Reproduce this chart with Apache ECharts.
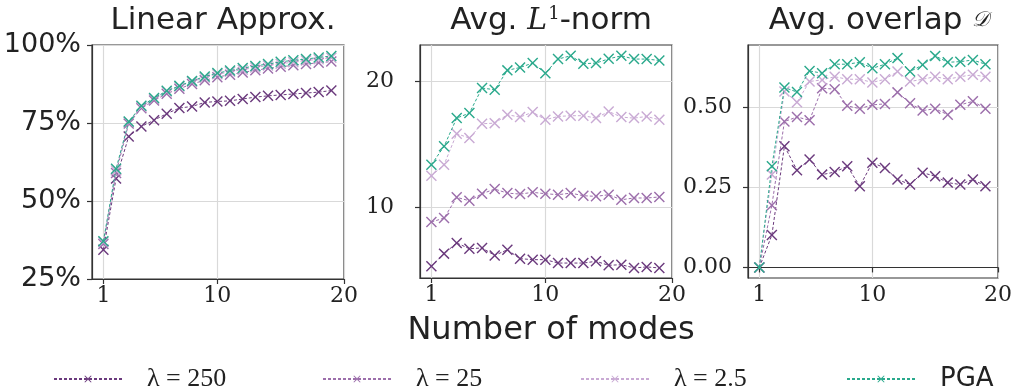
<!DOCTYPE html>
<html><head><meta charset="utf-8">
<script src="https://cdn.jsdelivr.net/npm/echarts@6/dist/echarts.min.js"></script>
<style>html,body{margin:0;padding:0;background:#fff}#c{width:1015px;height:387px}</style>
</head><body><div id="c"></div>
<script>
const modes = [1,2,3,4,5,6,7,8,9,10,11,12,13,14,15,16,17,18,19];
const seriesNames = ['λ = 250', 'λ = 25', 'λ = 2.5', 'PGA'];
const seriesColors = ['#6b3a7d', '#9c6eab', '#c9aad4', '#2aa98c'];

// Panel 1: Linear Approx. (fraction)
const linApprox = [
  [0.344,0.572,0.707,0.739,0.759,0.780,0.798,0.803,0.816,0.819,0.821,0.827,0.833,0.837,0.840,0.843,0.846,0.849,0.854],
  [0.362,0.590,0.748,0.797,0.822,0.844,0.860,0.875,0.887,0.897,0.905,0.912,0.919,0.925,0.930,0.935,0.939,0.943,0.947],
  [0.368,0.598,0.753,0.802,0.828,0.851,0.867,0.882,0.895,0.906,0.914,0.921,0.928,0.934,0.940,0.945,0.950,0.954,0.959],
  [0.371,0.603,0.755,0.805,0.830,0.853,0.869,0.885,0.899,0.910,0.918,0.926,0.933,0.939,0.946,0.951,0.955,0.960,0.965]
];
// Panel 2: Avg. L1-norm
const l1Norm = [
  [5.28,6.29,7.14,6.68,6.74,6.15,6.60,5.89,5.81,5.81,5.54,5.54,5.54,5.68,5.36,5.41,5.15,5.23,5.15],
  [8.81,9.12,10.77,10.50,11.06,11.43,11.11,11.03,11.17,11.06,10.98,11.11,10.90,10.85,10.98,10.58,10.72,10.72,10.80],
  [12.49,13.37,15.84,15.49,16.63,16.68,17.35,17.16,17.56,16.95,17.21,17.27,17.27,17.08,17.61,17.16,17.08,17.21,16.95],
  [13.37,14.83,17.08,17.48,19.47,19.34,20.88,21.11,21.46,20.66,21.78,22.04,21.41,21.46,21.80,22.04,21.78,21.78,21.67]
];
// Panel 3: Avg. overlap D
const overlap = [
  [0,0.101,0.379,0.304,0.337,0.290,0.298,0.316,0.254,0.327,0.311,0.275,0.259,0.296,0.285,0.265,0.259,0.275,0.254],
  [0,0.194,0.456,0.470,0.460,0.560,0.557,0.505,0.496,0.508,0.511,0.547,0.513,0.490,0.496,0.477,0.508,0.519,0.496],
  [0,0.290,0.550,0.516,0.581,0.586,0.596,0.588,0.588,0.578,0.588,0.612,0.581,0.588,0.596,0.588,0.596,0.602,0.596],
  [0,0.316,0.562,0.548,0.614,0.607,0.635,0.635,0.641,0.622,0.635,0.654,0.612,0.633,0.661,0.641,0.643,0.648,0.635]
];
const xTicks = [1, 10, 20];
const yTicks1 = [0.25, 0.5, 0.75, 1.0];
const yTicks2 = [10, 20];
const yTicks3 = [0, 0.25, 0.5];
const titles = ['Linear Approx.', 'Avg. {it|L}{sup|1}-norm', 'Avg. overlap {sc|𝒟}'];
const xLabel = 'Number of modes';

const crossPath = 'path://M0,1.1 L1.1,0 L6,4.9 L10.9,0 L12,1.1 L7.1,6 L12,10.9 L10.9,12 L6,7.1 L1.1,12 L0,10.9 L4.9,6 Z';

const grids = [
  {left: 92, width: 252, top: 45, height: 234},
  {left: 420, width: 252, top: 45, height: 233},
  {left: 748, width: 252, top: 45, height: 233}
].map(g => Object.assign({show: true, borderColor: '#333', borderWidth: 1.2, backgroundColor: 'transparent'}, g));

const serifFont = 'DejaVu Serif';
const sansFont = 'DejaVu Sans';

function xAxis(i) {
  return {
    type: 'value', gridIndex: i, min: 0.1, max: 20,
    axisLine: {show: true, lineStyle: {color: '#333', width: 1.2}},
    axisTick: {show: true, customValues: xTicks, length: 5, lineStyle: {color: '#333', width: 1.2}},
    axisLabel: {customValues: xTicks, fontFamily: serifFont, fontSize: 22, color: '#222', margin: 6, showMaxLabel: true},
    splitLine: {show: true, lineStyle: {color: '#d9d9d9', width: 1.2}}
  };
}
function yAxis(i, min, max, ticks, fmt, font, size, margin) {
  return {
    type: 'value', gridIndex: i, min: min, max: max,
    axisLine: {show: true, lineStyle: {color: '#333', width: 1.2}},
    axisTick: {show: true, customValues: ticks, length: 5, lineStyle: {color: '#333', width: 1.2}},
    axisLabel: {customValues: ticks, formatter: fmt, fontFamily: font, fontSize: size, color: '#222', margin: margin, showMaxLabel: true, showMinLabel: true},
    splitLine: {show: true, lineStyle: {color: '#d9d9d9', width: 1.2}}
  };
}

const panels = [linApprox, l1Norm, overlap];
const series = [];
panels.forEach((data, gi) => {
  data.forEach((vals, si) => {
    series.push({
      name: seriesNames[si], type: 'line', xAxisIndex: gi, yAxisIndex: gi,
      data: modes.map((m, k) => [m, vals[k]]),
      symbol: crossPath, symbolSize: 11,
      itemStyle: {color: seriesColors[si]},
      lineStyle: {color: seriesColors[si], width: 1, type: [3, 2]},
      z: 2 + si, animation: false
    });
  });
});

const legendLefts = [48, 317, 575, 841];
const legends = seriesNames.map((n, i) => ({
  data: [n], left: legendLefts[i], top: 361, itemWidth: 68, itemHeight: 9, itemGap: 0,
  textStyle: {fontFamily: 'Liberation Serif', fontSize: 26, color: '#222', padding: [0, 0, 0, 20]},
  selectedMode: false
}));
legends[3].textStyle = {fontFamily: sansFont, fontSize: 26, color: '#222', padding: [0, 0, 0, 20]};

const titleCenters = [218, 546, 874];
const titleOpts = titles.map((t, i) => ({
  text: t, left: titleCenters[i], top: 0, textAlign: 'center',
  textStyle: {
    fontFamily: sansFont, fontSize: 31, fontWeight: 'normal', color: '#222',
    rich: {
      it: {fontFamily: serifFont, fontStyle: 'italic', fontSize: 30, color: '#222'},
      sup: {fontFamily: serifFont, fontSize: 18, color: '#222', verticalAlign: 'top', padding: [0, 0, 14, 1]},
      sc: {fontFamily: 'DejaVu Serif', fontStyle: 'italic', fontSize: 21, color: '#222'}
    }
  }
}));
titleOpts.push({text: xLabel, left: 546, top: 310, textAlign: 'center',
  textStyle: {fontFamily: sansFont, fontSize: 32, fontWeight: 'normal', color: '#222'}});

const chart = echarts.init(document.getElementById('c'), null, {renderer: 'canvas'});
chart.setOption({
  animation: false,
  backgroundColor: '#fff',
  title: titleOpts,
  legend: legends,
  grid: grids,
  xAxis: [xAxis(0), xAxis(1), xAxis(2)],
  yAxis: [
    yAxis(0, 0.25, 1.0, yTicks1, v => Math.round(v * 100) + '%', sansFont, 27, 11),
    yAxis(1, 4.35, 22.9, yTicks2, v => String(v), serifFont, 22, 26),
    yAxis(2, -0.033, 0.695, yTicks3, v => v.toFixed(2), serifFont, 22, 16)
  ],
  series: series
});
</script></body></html>
